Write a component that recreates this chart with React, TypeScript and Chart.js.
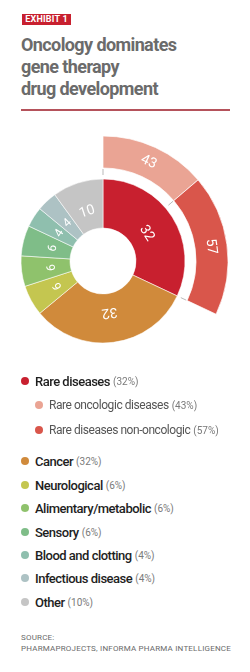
import React, { useEffect, useRef } from 'react';
import { Chart, registerables } from 'chart.js';
Chart.register(...registerables);

const FONT = 'Roboto, "Open Sans", sans-serif';

const categories = ['Rare diseases', 'Cancer', 'Neurological', 'Alimentary/metabolic', 'Sensory', 'Blood and clotting', 'Infectious disease', 'Other'];
const shares = [32, 32, 6, 6, 6, 4, 4, 10];
const colors = ['#c8202f', '#d08a3b', '#c4c650', '#8fc26c', '#7fbd88', '#8fbfae', '#adc2c4', '#c5c5c5'];

const rareSubLabels = ['Rare oncologic diseases', 'Rare diseases non-oncologic'];
const rareSubShares = [43, 57];
const rareSubColors = ['#eaa494', '#d9564b'];

const titleLines = ['Oncology dominates', 'gene therapy', 'drug development'];
const sourceLines = ['SOURCE:', 'PHARMAPROJECTS, INFORMA PHARMA INTELLIGENCE'];

const legendRowsY = [381, 461, 485, 508, 532, 555, 578, 602];
const subRowsY = [405, 430];

export default function App() {
  const ref = useRef<HTMLCanvasElement>(null);

  useEffect(() => {
    document.body.style.margin = '0';
    const labelPlugin = {
      id: 'ringLabels',
      afterDatasetsDraw(chart: any) {
        const ctx = chart.ctx;
        ctx.save();
        const outerMeta = chart.getDatasetMeta(0);
        const innerMeta = chart.getDatasetMeta(2);
        const cx = innerMeta.data[0].x;
        const cy = innerMeta.data[0].y;
        const rIn = innerMeta.data[0].outerRadius + 1;
        const rOut = outerMeta.data[0].innerRadius - 1;
        const angles = [outerMeta.data[0].startAngle, ...outerMeta.data.map((a: any) => a.endAngle)];
        ctx.strokeStyle = '#b9b9b9';
        ctx.lineWidth = 1;
        angles.forEach((a: number) => {
          ctx.beginPath();
          ctx.moveTo(cx + (rIn + 3) * Math.cos(a), cy + (rIn + 3) * Math.sin(a));
          ctx.lineTo(cx + rOut * Math.cos(a), cy + rOut * Math.sin(a));
          ctx.stroke();
        });
        const draw = (meta: any, values: number[], frac: number) => {
          meta.data.forEach((el: any, i: number) => {
            const { startAngle, endAngle, innerRadius, outerRadius, x, y } = el;
            const mid = (startAngle + endAngle) / 2;
            const r = innerRadius + frac * (outerRadius - innerRadius);
            ctx.save();
            ctx.translate(x + r * Math.cos(mid), y + r * Math.sin(mid));
            ctx.rotate(mid + Math.PI / 2);
            ctx.fillStyle = '#ffffff';
            ctx.font = `${values[i] >= 10 ? 14 : 12}px ${FONT}`;
            ctx.textAlign = 'center';
            ctx.textBaseline = 'middle';
            ctx.fillText(String(values[i]), 0, 0);
            ctx.restore();
          });
        };
        draw(innerMeta, shares, 0.38);
        draw(outerMeta, rareSubShares, 0.5);
        ctx.restore();
      },
    };
    const chart = new Chart(ref.current as HTMLCanvasElement, {
      type: 'doughnut',
      data: {
        labels: categories,
        datasets: [
          {
            data: rareSubShares,
            backgroundColor: rareSubColors,
            circumference: shares[0] * 3.6,
            rotation: 0,
            weight: 32,
            borderColor: 'rgba(255,255,255,0.7)',
            borderWidth: 1,
          } as any,
          { data: [1], backgroundColor: 'rgba(0,0,0,0)', borderWidth: 0, weight: 11 } as any,
          {
            data: shares,
            backgroundColor: colors,
            weight: 49,
            borderColor: 'rgba(255,255,255,0.55)',
            borderWidth: 1,
          } as any,
        ],
      },
      options: {
        responsive: false,
        animation: false,
        cutout: '26.4%',
        radius: 125,
        layout: { padding: 0 },
        events: [],
        plugins: { legend: { display: false }, tooltip: { enabled: false } },
      } as any,
      plugins: [labelPlugin],
    });
    return () => chart.destroy();
  }, []);

  const dot = (color: string, size: number) => (
    <span style={{ display: 'inline-block', width: size, height: size, borderRadius: '50%', background: color, flex: 'none' }} />
  );

  return (
    <div style={{ position: 'absolute', left: 0, top: 0, width: 250, height: 672, overflow: 'hidden', background: '#fff', fontFamily: FONT }}>
      <div style={{ position: 'absolute', left: 22, top: 14, width: 49, height: 11, background: '#c8202f', color: '#fff', fontSize: 9, fontWeight: 700, lineHeight: '11px', textAlign: 'center', letterSpacing: 0.2 }}>EXHIBIT 1</div>
      {titleLines.map((t, i) => (
        <div key={t} style={{ position: 'absolute', left: 21, top: 33 + i * 22, fontSize: 18, lineHeight: '24px', fontWeight: 700, color: '#6b6b6b', whiteSpace: 'nowrap', letterSpacing: -0.6 }}>{t}</div>
      ))}
      <div style={{ position: 'absolute', left: 21, top: 109, width: 209, height: 2, background: '#b5525b' }} />
      <canvas ref={ref} width={250} height={250} style={{ position: 'absolute', left: -22, top: 136, width: 250, height: 250 }} />
      {categories.map((c, i) => (
        <div key={c} style={{ position: 'absolute', left: 21, top: legendRowsY[i] - 8, height: 16, display: 'flex', alignItems: 'center', whiteSpace: 'nowrap' }}>
          {dot(colors[i], 8)}
          <span style={{ marginLeft: 6, fontSize: 13, fontWeight: 500, color: '#1e1e1e', letterSpacing: -0.5 }}>{c}</span>
          <span style={{ marginLeft: 3, fontSize: 10, color: '#7a7a7a' }}>({shares[i]}%)</span>
        </div>
      ))}
      {rareSubLabels.map((c, i) => (
        <div key={c} style={{ position: 'absolute', left: 35, top: subRowsY[i] - 8, height: 16, display: 'flex', alignItems: 'center', whiteSpace: 'nowrap' }}>
          {dot(rareSubColors[i], 8)}
          <span style={{ marginLeft: 6, fontSize: 12, color: '#555', letterSpacing: -0.45 }}>{c}</span>
          <span style={{ marginLeft: 3, fontSize: 10, color: '#7a7a7a' }}>({rareSubShares[i]}%)</span>
        </div>
      ))}
      {sourceLines.map((s, i) => (
        <div key={s} style={{ position: 'absolute', left: 21, top: 632 + i * 11, fontSize: 8, lineHeight: '11px', color: '#6a6a6a', whiteSpace: 'nowrap', letterSpacing: 0.2 }}>{s}</div>
      ))}
    </div>
  );
}
